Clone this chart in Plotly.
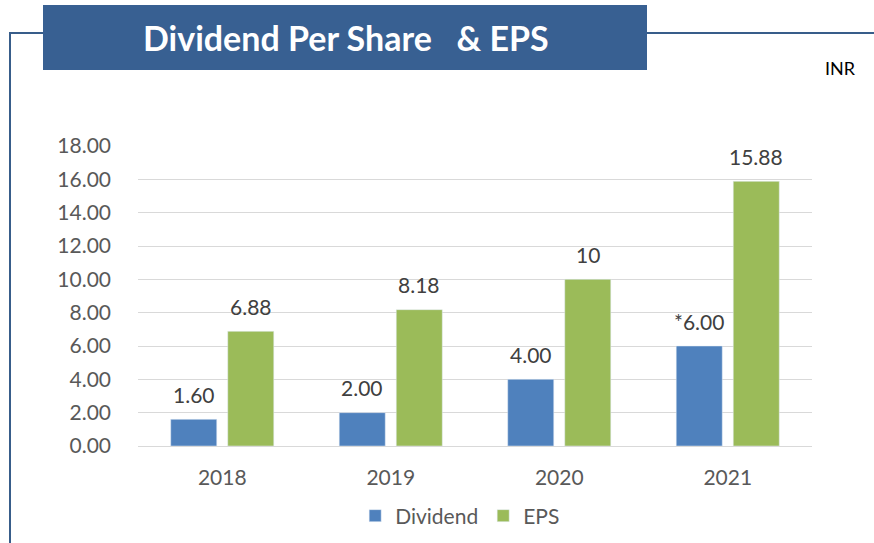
import plotly.graph_objects as go

years = ["2018", "2019", "2020", "2021"]
dividend = [1.60, 2.00, 4.00, 6.00]
eps = [6.88, 8.18, 10.0, 15.88]
dividend_labels = ["1.60", "2.00", "4.00", "*6.00"]
eps_labels = ["6.88", "8.18", "10", "15.88"]
y_ticks = [0, 2, 4, 6, 8, 10, 12, 14, 16, 18]

W, H = 874, 543
L, R, T, B = 138, 62, 146, 97
pw, ph = W - L - R, H - T - B

def px(x):
    return (x - L) / pw

def py(y):
    return (H - B - y) / ph

FONT = "Lato"
FS = 21

fig = go.Figure()
fig.add_trace(go.Bar(x=years, y=dividend, name="Dividend", marker_color="#4F81BD"))
fig.add_trace(go.Bar(x=years, y=eps, name="EPS", marker_color="#9BBB59"))

bargap, bargroupgap = 0.323, 0.193
cat_px = pw / len(years)
slot = cat_px * (1 - bargap) / 2
offs = [-slot / 2, slot / 2]

annotations = []
for series, labels, off in ((dividend, dividend_labels, offs[0]), (eps, eps_labels, offs[1])):
    for i, (yv, lab) in enumerate(zip(series, labels)):
        annotations.append(dict(
            x=i, y=yv, xref="x", yref="y", text=lab, showarrow=False,
            xanchor="center", yanchor="middle", xshift=off, yshift=25,
            font=dict(size=FS, color="#404040", family=FONT)))

line_col = "#385D8A"
shapes = [
    dict(type="line", xref="paper", yref="paper", x0=px(9), x1=px(43), y0=py(33), y1=py(33),
         line=dict(color=line_col, width=2)),
    dict(type="line", xref="paper", yref="paper", x0=px(647), x1=px(874), y0=py(33), y1=py(33),
         line=dict(color=line_col, width=2)),
    dict(type="line", xref="paper", yref="paper", x0=px(10), x1=px(10), y0=py(33), y1=py(543),
         line=dict(color=line_col, width=2)),
    dict(type="rect", xref="paper", yref="paper", x0=px(43), x1=px(647), y0=py(70), y1=py(5),
         fillcolor="#386092", line=dict(width=0)),
]

annotations += [
    dict(text="<b>Dividend Per Share   &amp; EPS</b>", xref="paper", yref="paper",
         x=px(346), y=py(37), xanchor="center", yanchor="middle", showarrow=False,
         font=dict(size=34, color="white", family=FONT)),
    dict(text="INR", xref="paper", yref="paper", x=px(840), y=py(68),
         xanchor="center", yanchor="middle", showarrow=False,
         font=dict(size=18, color="black", family=FONT)),
]

fig.update_layout(
    width=W, height=H,
    margin=dict(l=L, r=R, t=T, b=B, autoexpand=False),
    paper_bgcolor="white", plot_bgcolor="white",
    barmode="group", bargap=bargap, bargroupgap=bargroupgap,
    shapes=shapes, annotations=annotations,
    font=dict(family=FONT, color="#595959"),
    xaxis=dict(type="category", showgrid=False, showline=True, linecolor="#D9D9D9", linewidth=1,
               tickfont=dict(size=FS, color="#595959", family=FONT), ticks="",
               ticklabelstandoff=13),
    yaxis=dict(range=[0, 18], tickvals=y_ticks, tickformat=".2f",
               showgrid=True, gridcolor="#D9D9D9", gridwidth=1, zeroline=False,
               tickfont=dict(size=FS, color="#595959", family=FONT), ticks="",
               ticklabelstandoff=26),
    legend=dict(orientation="h", x=0.478, xanchor="center", y=py(516), yanchor="middle",
                font=dict(size=FS, color="#595959", family=FONT), itemwidth=30),
    showlegend=True,
)

fig.write_html("out.html", config={"displayModeBar": False})

with open("out.html", "r", encoding="utf-8") as f:
    html = f.read()
html = html.replace("<body>", '<body style="margin:0;padding:0">', 1)
with open("out.html", "w", encoding="utf-8") as f:
    f.write(html)
